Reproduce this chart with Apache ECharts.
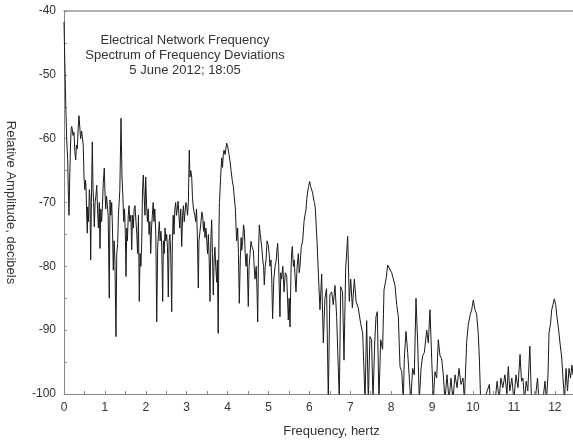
<!DOCTYPE html>
<html>
<head>
<meta charset="utf-8">
<title>Electrical Network Frequency</title>
<script src="https://cdn.jsdelivr.net/npm/echarts@6/dist/echarts.min.js"></script>
<style>
  html, body { margin: 0; padding: 0; background: #fff; }
  #chart { width: 573px; height: 442px; }
</style>
</head>
<body>
<div id="chart"></div>
<script>
// 频谱数据
const freqHz = [
  0, 0.02, 0.042, 0.065, 0.09, 0.105, 0.122, 0.14, 0.16, 0.175, 0.188, 0.205, 0.22, 0.244, 0.265, 0.286,
  0.305, 0.325, 0.345, 0.367, 0.39, 0.405, 0.416, 0.432, 0.447, 0.47, 0.489, 0.51, 0.525, 0.538, 0.555, 0.57,
  0.579, 0.6, 0.62, 0.636, 0.652, 0.67, 0.692, 0.71, 0.725, 0.741, 0.76, 0.78, 0.8, 0.82, 0.84, 0.863,
  0.88, 0.9, 0.92, 0.94, 0.96, 0.985, 1.0, 1.02, 1.04, 1.06, 1.08, 1.107, 1.125, 1.145, 1.166, 1.185,
  1.205, 1.225, 1.245, 1.271, 1.29, 1.313, 1.33, 1.345, 1.365, 1.394, 1.418, 1.443, 1.46, 1.48, 1.5, 1.516,
  1.535, 1.55, 1.572, 1.59, 1.61, 1.635, 1.655, 1.675, 1.695, 1.715, 1.736, 1.76, 1.78, 1.8, 1.82, 1.841,
  1.86, 1.88, 1.9, 1.92, 1.939, 1.96, 1.98, 1.998, 2.02, 2.04, 2.06, 2.08, 2.1, 2.12, 2.14, 2.16,
  2.18, 2.2, 2.22, 2.245, 2.267, 2.29, 2.31, 2.33, 2.35, 2.37, 2.39, 2.413, 2.43, 2.45, 2.47, 2.49,
  2.51, 2.53, 2.55, 2.57, 2.59, 2.61, 2.633, 2.65, 2.67, 2.69, 2.71, 2.73, 2.75, 2.77, 2.79, 2.81,
  2.83, 2.855, 2.878, 2.9, 2.92, 2.94, 2.958, 2.98, 3.0, 3.02, 3.04, 3.063, 3.08, 3.1, 3.122, 3.14,
  3.16, 3.18, 3.2, 3.22, 3.24, 3.26, 3.284, 3.3, 3.325, 3.35, 3.37, 3.39, 3.41, 3.43, 3.447, 3.47,
  3.49, 3.51, 3.53, 3.55, 3.57, 3.59, 3.61, 3.63, 3.65, 3.67, 3.69, 3.71, 3.733, 3.75, 3.77, 3.79,
  3.8, 3.81, 3.83, 3.856, 3.875, 3.895, 3.912, 3.94, 3.96, 3.978, 3.995, 4.01, 4.035, 4.059, 4.085, 4.115,
  4.14, 4.164, 4.19, 4.22, 4.247, 4.265, 4.286, 4.31, 4.33, 4.345, 4.37, 4.39, 4.408, 4.43, 4.45, 4.475,
  4.506, 4.525, 4.55, 4.572, 4.6, 4.63, 4.65, 4.67, 4.7, 4.72, 4.736, 4.755, 4.775, 4.8, 4.834, 4.86,
  4.88, 4.897, 4.92, 4.94, 4.965, 4.995, 5.015, 5.037, 5.06, 5.08, 5.1, 5.13, 5.16, 5.19, 5.205, 5.225,
  5.25, 5.28, 5.3, 5.32, 5.35, 5.38, 5.41, 5.445, 5.465, 5.484, 5.505, 5.526, 5.55, 5.565, 5.582, 5.61,
  5.63, 5.648, 5.672, 5.7, 5.73, 5.75, 5.77, 5.8, 5.836, 5.868, 5.89, 5.917, 5.935, 5.954, 5.98, 6.007,
  6.03, 6.05, 6.08, 6.105, 6.125, 6.144, 6.186, 6.227, 6.259, 6.3, 6.34, 6.38, 6.42, 6.462, 6.5, 6.545,
  6.584, 6.626, 6.667, 6.731, 6.765, 6.81, 6.846, 6.887, 6.936, 6.976, 7.01, 7.05, 7.1, 7.14, 7.195, 7.254,
  7.303, 7.36, 7.4, 7.44, 7.48, 7.52, 7.555, 7.597, 7.628, 7.66, 7.7, 7.743, 7.79, 7.824, 7.873, 7.914,
  7.954, 8.012, 8.05, 8.093, 8.134, 8.175, 8.215, 8.257, 8.296, 8.32, 8.362, 8.403, 8.443, 8.477, 8.525, 8.565,
  8.606, 8.647, 8.687, 8.73, 8.77, 8.81, 8.868, 8.907, 8.949, 8.99, 9.03, 9.07, 9.112, 9.152, 9.193, 9.235,
  9.274, 9.315, 9.364, 9.413, 9.462, 9.51, 9.56, 9.61, 9.658, 9.707, 9.756, 9.79, 9.846, 9.885, 9.934, 9.968,
  10.007, 10.049, 10.09, 10.13, 10.154, 10.187, 10.27, 10.4, 10.42, 10.54, 10.59, 10.64, 10.68, 10.73, 10.78, 10.83,
  10.863, 10.9, 10.95, 11.0, 11.05, 11.1, 11.15, 11.186, 11.22, 11.26, 11.3, 11.34, 11.39, 11.43, 11.52, 11.577,
  11.614, 11.71, 11.76, 11.797, 11.834, 11.858, 11.895, 11.924, 11.956, 11.988, 12.022, 12.054, 12.095, 12.127, 12.168, 12.2,
  12.237, 12.274, 12.311, 12.347, 12.384, 12.42, 12.445
];

const ampDb = [
  -41.7, -48, -54.4, -60, -63.3, -68, -72, -66, -61, -58.5, -58.1, -58.6, -59.5, -59, -62, -63.3,
  -61, -61.6, -58.5, -56.4, -58.5, -60, -59.7, -58.8, -59, -61, -66, -68, -66.5, -67.5, -72, -74.8,
  -70.7, -73, -68, -69.6, -79, -70, -60.5, -68, -70, -73.8, -70, -69, -67.3, -71, -74, -70,
  -77.2, -71, -73, -70.5, -67, -64.6, -68, -71, -69, -70.5, -72, -85, -69.6, -72, -70, -74,
  -80.6, -76, -79, -91, -78, -76.4, -72, -72, -68, -56.8, -66, -69.6, -73, -71, -75, -81.6,
  -74, -76, -72, -70.5, -73, -72, -77.4, -72, -74, -71, -70.5, -73, -75, -78, -72, -85.5,
  -78, -80, -76.4, -68, -65.7, -69, -72, -66, -70.5, -73, -71, -75, -73, -78, -74, -72,
  -70, -73, -71, -75, -88.7, -77, -75, -73, -76, -74.5, -77, -85.5, -76, -78, -74, -76,
  -75, -77, -84.8, -76, -75, -78, -87.1, -76, -72, -75, -71, -70, -72, -71, -69.8, -72,
  -74, -71, -76.9, -72, -70.5, -73, -72.7, -70, -70.5, -72, -70, -61.8, -66, -65, -66, -69,
  -70.7, -71.5, -72, -73, -71, -75, -83.4, -76, -74.5, -73, -71.5, -72, -74.5, -73, -75.5, -74,
  -76, -78, -75, -79, -85.5, -76, -72.7, -78, -84.5, -79, -77, -80, -82.5, -79, -90.5, -74,
  -70, -68.8, -66, -63, -64.5, -62.5, -61.8, -62.5, -61.5, -60.7, -61, -61.5, -62.5, -63.5, -65, -66.6,
  -67.5, -69.2, -71, -76, -74, -78, -85.8, -79, -75.5, -77.5, -76, -73.5, -74.3, -78, -80, -78,
  -86.3, -80, -78, -76.1, -77, -77.5, -80, -82, -80, -84, -88.7, -78, -73.5, -75, -77, -79,
  -80, -82.9, -80, -79, -76, -76.7, -78, -80, -79, -82, -88.2, -82, -80, -79, -77.5, -76.4,
  -80, -87.9, -81, -82, -80, -84, -81, -81.5, -85, -88.4, -85, -89.5, -81, -78, -76.9, -80,
  -79, -81.5, -84, -80, -78, -81, -80, -77, -76, -73, -72, -71.2, -69.5, -68.5, -67.5, -66.7,
  -67.5, -67.8, -68.5, -69.6, -70, -70.9, -76, -82.3, -86.8, -81.2, -92, -85, -83.5, -101, -84.5, -84,
  -86, -83, -88, -101, -83.2, -84, -94.7, -80.3, -75.3, -85.5, -82, -86.5, -82, -85.5, -86.5, -89,
  -90.5, -101, -88.5, -101, -91, -91.5, -101, -92, -87.9, -87.1, -101, -91.5, -93, -83.7, -82, -79.8,
  -79.8, -81, -80.8, -83, -86, -87.9, -95.7, -96.5, -101, -94.5, -90.2, -93.5, -93.5, -101, -96, -97,
  -85, -92, -101, -96, -94, -93.5, -90, -92, -86.8, -94.5, -101, -96.5, -97.5, -91.5, -94, -94.5,
  -97, -101, -97, -101, -97.5, -101, -97, -99, -96, -98.5, -97.5, -101, -91.8, -89.1, -87.5, -86.8,
  -85.3, -86.8, -87.5, -90.7, -94.2, -101, -101, -98.5, -101, -101, -98, -101, -97.5, -99, -97, -100,
  -95.7, -99.5, -97.5, -101, -97, -99, -93.8, -98, -97.5, -101, -98, -99.5, -92.5, -101, -101, -97.5,
  -101, -101, -98, -101, -97, -90.5, -89, -86.8, -86, -85.1, -86, -88, -90, -92, -94.2, -97.5,
  -101, -96, -99.5, -96, -97.5, -95.5, -97
];

// 坐标轴范围
const xMin = 0;
const xMax = 12.445;
const yMin = -100;
const yMax = -40;

const titleLines = [
  'Electrical Network Frequency',
  'Spectrum of Frequency Deviations',
  '5 June 2012; 18:05'
];

const chart = echarts.init(document.getElementById('chart'));

const axisGray = '#888';
const textColor = '#333';
const fontFamily = '"Liberation Sans", Arial, Helvetica, sans-serif';

// 图内标题（三行居中）
const titleGraphics = titleLines.map((t, i) => ({
  type: 'text',
  x: 185,
  y: 34 + i * 15,
  style: {
    text: t,
    fontSize: 13,
    fontFamily,
    fill: textColor,
    align: 'center',
    verticalAlign: 'top'
  }
}));

const option = {
  animation: false,
  backgroundColor: '#fff',
  textStyle: { fontFamily },
  grid: { left: 64, right: 0, top: 11, bottom: 48, outerBoundsMode: 'none', containLabel: false },
  graphic: titleGraphics,
  xAxis: [
    {
      type: 'value',
      min: xMin,
      max: xMax,
      interval: 1,
      splitLine: { show: false },
      axisLine: { lineStyle: { color: axisGray, width: 1 } },
      axisTick: { inside: true, length: 3, lineStyle: { color: axisGray } },
      minorTick: { show: true, splitNumber: 2, length: 3, lineStyle: { color: axisGray } },
      axisLabel: {
        color: textColor,
        fontSize: 12,
        margin: 8,
        formatter: v => (Number.isInteger(v) ? String(v) : '')
      },
      name: 'Frequency, hertz',
      nameLocation: 'middle',
      nameGap: 31,
      nameTextStyle: { color: textColor, fontSize: 13, padding: [0, 0, 0, 26] }
    },
    {
      type: 'value',
      position: 'top',
      min: xMin,
      max: xMax,
      axisLine: { show: true, lineStyle: { color: '#999', width: 1.5 } },
      axisTick: { show: false },
      axisLabel: { show: false },
      splitLine: { show: false }
    }
  ],
  yAxis: {
    type: 'value',
    min: yMin,
    max: yMax,
    interval: 10,
    splitLine: { show: false },
    axisLine: { show: true, lineStyle: { color: axisGray, width: 1 } },
    axisTick: { show: true, inside: true, length: 3, lineStyle: { color: axisGray } },
    minorTick: { show: true, splitNumber: 2, length: 3, lineStyle: { color: axisGray } },
    axisLabel: { color: textColor, fontSize: 12, margin: 8 },
    name: 'Relative Amplitude, decibels',
    nameLocation: 'middle',
    nameRotate: -90,
    nameGap: 47,
    nameTextStyle: { color: textColor, fontSize: 13 }
  },
  series: [
    {
      type: 'line',
      xAxisIndex: 0,
      data: freqHz.map((f, i) => [f, ampDb[i]]),
      showSymbol: false,
      clip: true,
      lineStyle: { color: '#1a1a1a', width: 1 }
    }
  ]
};

chart.setOption(option);
</script>
</body>
</html>
